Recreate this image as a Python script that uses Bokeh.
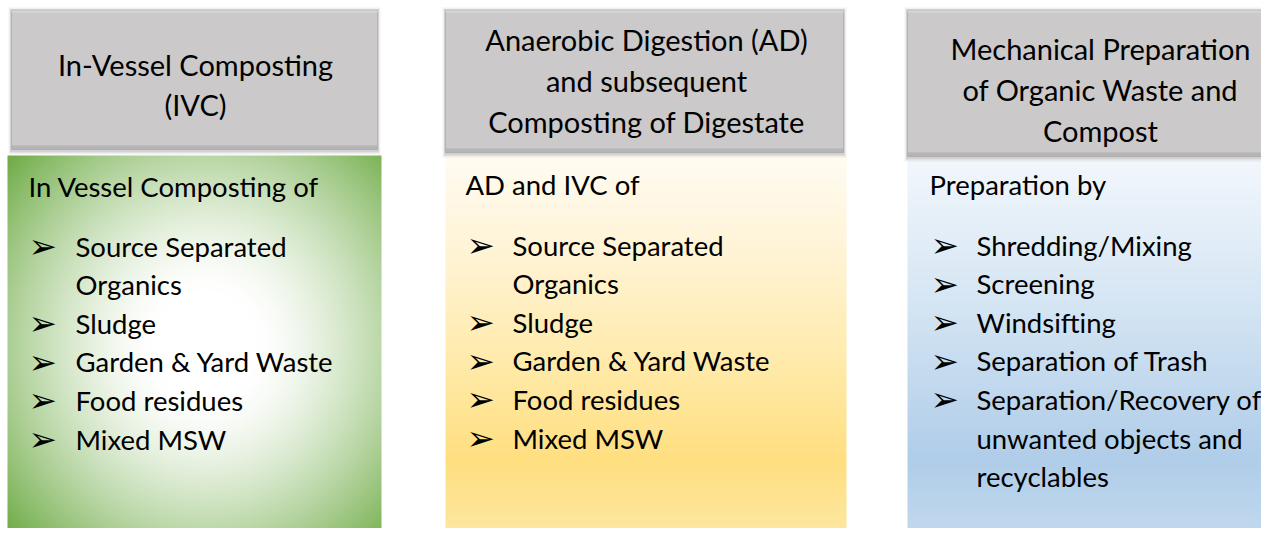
import numpy as np
from bokeh.plotting import figure
from bokeh.models import Range1d
from bokeh.embed import file_html
from bokeh.resources import INLINE
from bokeh.core.properties import value

# ---------------- content ----------------
headers = [
    ["In-Vessel Composting", "(IVC)"],
    ["Anaerobic Digestion (AD)", "and subsequent", "Composting of Digestate"],
    ["Mechanical Preparation", "of Organic Waste and", "Compost"],
]
intros = ["In Vessel Composting of", "AD and IVC of", "Preparation by"]
items_ivc = ["Source Separated\nOrganics", "Sludge", "Garden & Yard Waste",
             "Food residues", "Mixed MSW"]
items_ad = ["Source Separated\nOrganics", "Sludge", "Garden & Yard Waste",
            "Food residues", "Mixed MSW"]
items_mech = ["Shredding/Mixing", "Screening", "Windsifting", "Separation of Trash",
              "Separation/Recovery of\nunwanted objects and\nrecyclables"]
items = [items_ivc, items_ad, items_mech]

# ---------------- layout (reference pixel space) ----------------
header_box = [(11, 377, 10, 149), (445, 843, 10, 152), (907, 1290, 10, 156)]
body_box = [(7, 381, 155, 542), (445, 846, 155, 542), (907, 1290, 160, 544)]
header_cx = [195, 646, 1100]
header_y0 = [64, 39, 48]
header_step = [40, 41, 41]
intro_x = [28, 465, 929]
intro_y = [185.5, 183.5, 183.5]
arrow_x = [28, 466, 930]
item_x = [75, 512, 976]
item_y0 = [245.5, 244.5, 244.5]
item_step = 38.6

FONT = value("Lato")
HEAD_SIZE = "29px"
BODY_SIZE = "27.5px"

W_FIG, H_FIG = 1261, 528
p = figure(width=W_FIG, height=H_FIG, x_range=Range1d(0, W_FIG), y_range=Range1d(H_FIG, 0),
           output_backend="svg", toolbar_location=None, x_axis_type=None, y_axis_type=None,
           min_border=0)
p.grid.visible = False
p.outline_line_color = None
p.background_fill_color = "white"
p.border_fill_color = "white"


def hex2rgb(h):
    h = h.lstrip("#")
    return np.array([int(h[i:i + 2], 16) for i in (0, 2, 4)], dtype=float)


def to_rgba(rgb):
    H, W, _ = rgb.shape
    img = np.empty((H, W), dtype=np.uint32)
    v = img.view(dtype=np.uint8).reshape((H, W, 4))
    v[:, :, :3] = np.clip(rgb, 0, 255).astype(np.uint8)
    v[:, :, 3] = 255
    return img


def vertical_gradient(box, stops):
    l, r, t, b = box
    W, H = int(r - l), int(b - t)
    ys = t + np.arange(H) + 0.5
    sy = [s[0] for s in stops]
    cols = np.array([hex2rgb(s[1]) for s in stops])
    rgb = np.stack([np.interp(ys, sy, cols[:, k]) for k in range(3)], axis=1)
    rgb = np.repeat(rgb[:, None, :], W, axis=1)
    return to_rgba(rgb)


def radial_gradient(box, center, radii, inner, outer):
    l, r, t, b = box
    W, H = int(r - l), int(b - t)
    xs = l + np.arange(W) + 0.5
    ys = t + np.arange(H) + 0.5
    X, Y = np.meshgrid(xs, ys)
    d = np.sqrt(((X - center[0]) / radii[0]) ** 2 + ((Y - center[1]) / radii[1]) ** 2)
    tt = np.clip((d - 0.28) / 1.12, 0, 1) ** 1.4
    c0, c1 = hex2rgb(inner), hex2rgb(outer)
    rgb = c0[None, None, :] * (1 - tt[..., None]) + c1[None, None, :] * tt[..., None]
    return to_rgba(rgb)


# ---------------- body boxes (gradients) ----------------
g_img = radial_gradient(body_box[0], (205, 345), (190, 200), "#ffffff", "#6fac46")
y_img = vertical_gradient(body_box[1], [(155, "#fffcf3"), (250, "#fff4d6"), (350, "#ffecb0"),
                                        (460, "#ffdf80"), (542, "#fde8a5")])
b_img = vertical_gradient(body_box[2], [(160, "#f2f7fc"), (300, "#d6e6f4"), (460, "#b0cde9"),
                                        (544, "#c4dbef")])
for img, box in zip([g_img, y_img, b_img], body_box):
    l, r, t, b = box
    p.image_rgba(image=[img], x=l, y=t, dw=r - l, dh=b - t)

# ---------------- header boxes ----------------
for (l, r, t, b) in header_box:
    p.quad(left=l - 3, right=r + 3, top=t - 3, bottom=b + 5, fill_color="#000000",
           fill_alpha=0.06, line_color=None)
    p.quad(left=l - 1.5, right=r + 1.5, top=t - 1.5, bottom=b + 3, fill_color="#000000",
           fill_alpha=0.12, line_color=None)
    p.quad(left=l, right=r, top=t, bottom=b, fill_color="#cbc9ca", line_color="#b4b2b3",
           line_width=1)
    p.quad(left=l, right=r, top=b - 4, bottom=b, fill_color="#a9a7a8", fill_alpha=0.6,
           line_color=None)
    p.quad(left=l, right=r, top=t, bottom=t + 2, fill_color="#dedcdd", fill_alpha=0.8,
           line_color=None)

# ---------------- texts ----------------
for c in range(3):
    lines = headers[c]
    p.text(x=[header_cx[c]] * len(lines),
           y=[header_y0[c] + i * header_step[c] for i in range(len(lines))],
           text=lines, text_font=FONT, text_font_size=HEAD_SIZE, text_align="center",
           text_baseline="alphabetic", text_color="#000000")
    p.text(x=[intro_x[c]], y=[intro_y[c]], text=[intros[c]], text_font=FONT,
           text_font_size=BODY_SIZE, text_baseline="alphabetic", text_color="#000000")
    ax, ay, tx, ty, tt = [], [], [], [], []
    row = 0
    for it in items[c]:
        parts = it.split("\n")
        ax.append(arrow_x[c])
        ay.append(item_y0[c] + row * item_step)
        for part in parts:
            tx.append(item_x[c])
            ty.append(item_y0[c] + row * item_step)
            tt.append(part)
            row += 1
    p.text(x=ax, y=ay, text=["\u27a2"] * len(ax), text_font=value("DejaVu Sans"),
           text_font_size="34px", text_baseline="alphabetic", text_color="#000000")
    p.text(x=tx, y=ty, text=tt, text_font=FONT, text_font_size=BODY_SIZE,
           text_baseline="alphabetic", text_color="#000000")

open("out.html", "w").write(file_html(p, INLINE))
